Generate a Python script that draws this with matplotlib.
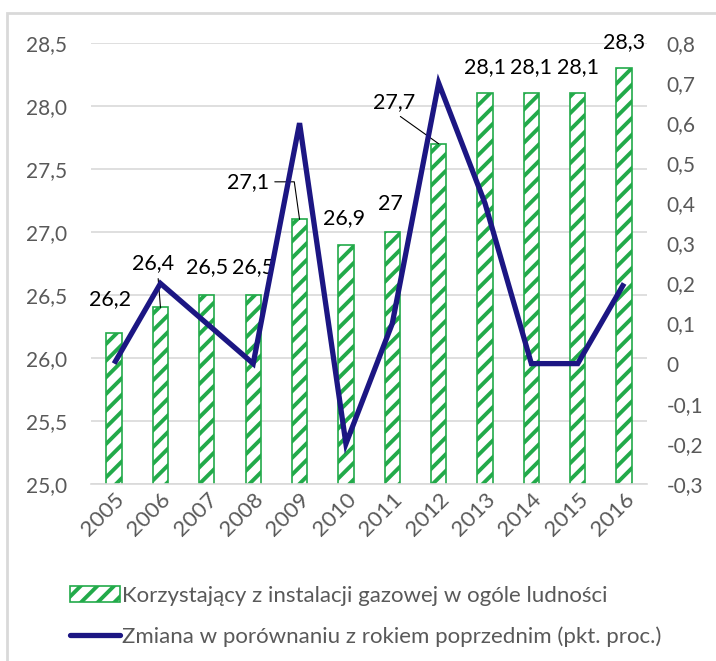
import numpy as np
import matplotlib
matplotlib.use('Agg')
from matplotlib import pyplot as plt
from matplotlib.patches import Rectangle

# data
years = ['2005', '2006', '2007', '2008', '2009', '2010',
         '2011', '2012', '2013', '2014', '2015', '2016']
share = [26.2, 26.4, 26.5, 26.5, 27.1, 26.9, 27.0, 27.7, 28.1, 28.1, 28.1, 28.3]
change = [0.0, 0.2, 0.1, 0.0, 0.6, -0.2, 0.1, 0.7, 0.4, 0.0, 0.0, 0.2]
share_labels = ['26,2', '26,4', '26,5', '26,5', '27,1', '26,9',
                '27', '27,7', '28,1', '28,1', '28,1', '28,3']
bar_name = 'Korzystający z instalacji gazowej w ogóle ludności'
line_name = 'Zmiana w porównaniu z rokiem poprzednim (pkt. proc.)'

plt.rcParams['font.family'] = ['Lato', 'DejaVu Sans']
plt.rcParams['hatch.linewidth'] = 2.8

green = '#22aa4a'
navy = '#1c1683'
grey = '#595959'

fig = plt.figure(figsize=(7.16, 6.61), dpi=100)
ax = fig.add_axes([0.127, 0.268, 0.777, 0.667])
ax2 = ax.twinx()

x = np.arange(len(years))
ax.bar(x, share, width=0.33, color='white', edgecolor=green, linewidth=1.2,
       hatch='//', label=bar_name, zorder=2)
ax.set_ylim(25.0, 28.5)
ax.set_yticks(np.arange(25.0, 28.51, 0.5))
ax.set_yticklabels([f'{v:.1f}'.replace('.', ',') for v in np.arange(25.0, 28.51, 0.5)])
ax.set_xlim(-0.5, len(years) - 0.5)
ax.set_xticks(x)
ax.set_xticklabels(years, rotation=45, ha='right', rotation_mode='anchor')
ax.grid(axis='y', color='#d9d9d9', linewidth=1.2, zorder=0)
ax.set_axisbelow(True)

ax2.plot(x, change, color=navy, linewidth=3.8, label=line_name,
         solid_joinstyle='miter', solid_capstyle='butt', zorder=3)
ax2.set_ylim(-0.3, 0.8)
rt = np.round(np.arange(-0.3, 0.81, 0.1), 1)
ax2.set_yticks(rt)
ax2.set_yticklabels(['0' if v == 0 else f'{v:.1f}'.replace('.', ',') for v in rt])

for a in (ax, ax2):
    for s in a.spines.values():
        s.set_visible(False)
    a.tick_params(length=0, labelsize=15, labelcolor=grey)
ax.spines['bottom'].set_visible(True)
ax.spines['bottom'].set_color('#d9d9d9')
ax.spines['bottom'].set_linewidth(1.2)
ax.tick_params(axis='y', pad=17)
ax.tick_params(axis='x', pad=4, labelsize=16)
ax2.tick_params(axis='y', pad=14)
ax2.set_zorder(ax.get_zorder() + 1)
ax2.patch.set_visible(False)

# data labels: offsets in points from the bar top, some with leader lines
offs = [(-3, 24), (-5, 32), (0, 20), (0, 20), (-37, 27), (-1, 19),
        (-1, 20), (-32, 30), (0, 19), (0, 19), (0, 19), (0, 19)]
leaders = {1: dict(relpos=(0.6, 0.0), connectionstyle='arc3'),
           4: dict(relpos=(1.0, 0.5), connectionstyle='angle,angleA=0,angleB=98,rad=0'),
           7: dict(relpos=(0.5, 0.0), connectionstyle='arc3')}
for i, (v, t) in enumerate(zip(share, share_labels)):
    ap = None
    if i in leaders:
        ap = dict(arrowstyle='-', color='black', lw=0.8, shrinkA=2, shrinkB=0, **leaders[i])
    ax.annotate(t, xy=(i, v), xytext=offs[i], textcoords='offset points',
                ha='center', va='center', fontsize=15.5, color='black',
                arrowprops=ap, zorder=5, annotation_clip=False)

h1, l1 = ax.get_legend_handles_labels()
h2, l2 = ax2.get_legend_handles_labels()
leg = fig.legend(h1 + h2, l1 + l2, loc='upper left', bbox_to_anchor=(0.085, 0.127),
                 frameon=False, fontsize=16, handlelength=2.25, handletextpad=0.1,
                 labelspacing=0.9, borderaxespad=0)
for t in leg.get_texts():
    t.set_color(grey)
leg.legend_handles[1].set_solid_capstyle('round')

# light frame round the chart area
fig.patches.append(Rectangle((7 / 716, -0.05), 1.1, 1 - 13 / 661 + 0.05,
                             transform=fig.transFigure, fill=False,
                             edgecolor='#d9d9d9', linewidth=2))

fig.savefig('out.png', dpi=100)
